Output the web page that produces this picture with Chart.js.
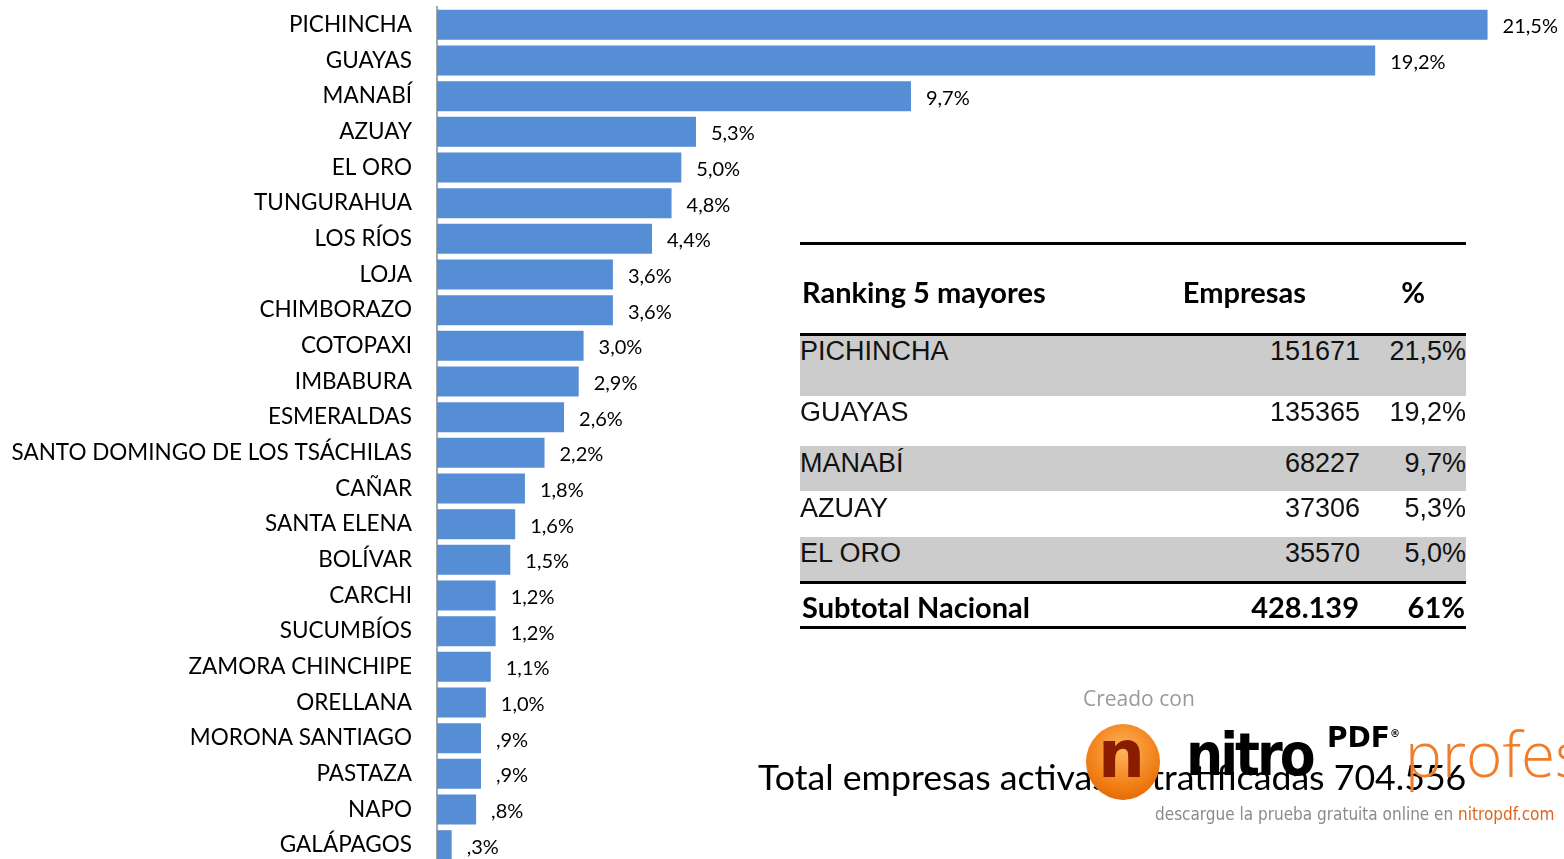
<!DOCTYPE html>
<html lang="es">
<head>
  <meta charset="UTF-8" />
  <title>Empresas por provincia</title>
  <script src="https://cdn.jsdelivr.net/npm/chart.js@4.4.1/dist/chart.umd.min.js"></script>
  <style>
    html, body {margin: 0; padding: 0; background: #fff; overflow: hidden;}
    body {width: 1564px; height: 859px; position: relative; font-family: Lato, sans-serif;}
    #chart {position: absolute; left: 0; top: 0;}
    .rule {position: absolute; left: 800px; width: 666px; background: #000;}
    .band {position: absolute; left: 800px; width: 666px; background: #cccccc;}
    .cell {position: absolute; white-space: nowrap; line-height: 1; transform: translateY(-50%);}
    .body {font-family: "Liberation Sans", Arial, sans-serif; font-size: 27px; color: #111;}
    .bold {font-family: Lato, sans-serif; font-weight: 700; font-size: 29px; color: #000;}
    #total {position: absolute; left: 758px; top: 776px; transform: translateY(-50%); font-size: 35.7px; white-space: nowrap;}
    .wm {position: absolute; white-space: nowrap; line-height: 1;}
  </style>
</head>
<body>
  <canvas id="chart" width="1564" height="866"></canvas>
  <div id="tabla"></div>
  <div id="total">Total empresas activas estratificadas 704.556</div>

  <!-- marca de agua -->
  <div class="wm" style="left:1083px;top:688px;font-size:21px;color:#9a9a9a;font-family:'Open Sans',sans-serif;">Creado con</div>
  <div class="wm" style="left:1086px;top:724px;width:74px;height:76px;border-radius:50%;background:radial-gradient(circle at 50% 35%,#ffb45a,#f07d14 60%,#d85a00);"></div>
  <div class="wm" style="left:1098px;top:722px;font-size:66px;font-weight:900;color:#8a1d00;font-family:'DejaVu Sans',sans-serif;">n</div>
  <div class="wm" style="left:1186px;top:726px;font-size:58px;font-weight:900;color:#000;font-family:'DejaVu Sans Condensed','DejaVu Sans',sans-serif;letter-spacing:-3px;">nitro</div>
  <div class="wm" style="left:1327px;top:724px;font-size:28px;font-weight:900;color:#000;font-family:'DejaVu Sans',sans-serif;">PDF<sup style="font-size:10px">®</sup></div>
  <div class="wm" style="left:1405px;top:722px;font-size:62px;color:#f07d2a;font-family:'Open Sans',sans-serif;font-weight:300;">profesional</div>
  <div class="wm" style="left:1155px;top:806px;font-size:17px;color:#8a8a8a;font-family:'DejaVu Sans Condensed','DejaVu Sans',sans-serif;">descargue la prueba gratuita online en <span style="color:#e0641e">nitropdf.com</span></div>

  <script>
    // porcentaje de empresas activas por provincia
    const provincias = [
      "PICHINCHA", "GUAYAS", "MANABÍ", "AZUAY", "EL ORO", "TUNGURAHUA", "LOS RÍOS", "LOJA",
      "CHIMBORAZO", "COTOPAXI", "IMBABURA", "ESMERALDAS", "SANTO DOMINGO DE LOS TSÁCHILAS",
      "CAÑAR", "SANTA ELENA", "BOLÍVAR", "CARCHI", "SUCUMBÍOS", "ZAMORA CHINCHIPE", "ORELLANA",
      "MORONA SANTIAGO", "PASTAZA", "NAPO", "GALÁPAGOS"
    ];
    const porcentajes = [
      21.5, 19.2, 9.7, 5.3, 5.0, 4.8, 4.4, 3.6,
      3.6, 3.0, 2.9, 2.6, 2.2,
      1.8, 1.6, 1.5, 1.2, 1.2, 1.1, 1.0,
      0.9, 0.9, 0.8, 0.3
    ];

    // tabla ranking
    const rankNombres = ["PICHINCHA", "GUAYAS", "MANABÍ", "AZUAY", "EL ORO"];
    const rankEmpresas = ["151671", "135365", "68227", "37306", "35570"];
    const rankPct = ["21,5%", "19,2%", "9,7%", "5,3%", "5,0%"];
    const subtotalEmpresas = "428.139";
    const subtotalPct = "61%";

    function fmtPct(v) {
      let s = v.toFixed(1).replace(".", ",");
      if (s.startsWith("0")) s = s.slice(1);   // ",9%" como en Excel
      return s + "%";
    }

    const barLabels = {
      id: "barLabels",
      afterDatasetsDraw(chart) {
        const ctx = chart.ctx;
        const meta = chart.getDatasetMeta(0);
        ctx.save();
        ctx.font = "20px Lato";
        ctx.fillStyle = "#000";
        ctx.textAlign = "left";
        ctx.textBaseline = "middle";
        meta.data.forEach((bar, i) => {
          ctx.fillText(fmtPct(chart.data.datasets[0].data[i]), bar.x + 15, bar.y + 2);
        });
        ctx.restore();
      }
    };

    new Chart(document.getElementById("chart").getContext("2d"), {
      type: "bar",
      data: {
        labels: provincias,
        datasets: [{
          data: porcentajes,
          backgroundColor: "#558ed5",
          barPercentage: 0.84,
          categoryPercentage: 1
        }]
      },
      options: {
        indexAxis: "y",
        responsive: false,
        animation: false,
        layout: {autoPadding: false, padding: {top: 7, right: 52, bottom: 3, left: 0}},
        plugins: {legend: {display: false}, tooltip: {enabled: false}},
        scales: {
          x: {display: false, min: 0, max: 22},
          y: {
            afterFit(s) { s.width = 437; s.paddingTop = 0; s.paddingBottom = 0; },
            grid: {display: false},
            border: {display: true, color: "#a6a6a6", width: 2},
            ticks: {color: "#000", padding: 17, font: {family: "Lato", size: 22.5}}
          }
        }
      },
      plugins: [barLabels]
    });

    // construir la tabla
    const tabla = document.getElementById("tabla");
    function add(cls, style, text) {
      const d = document.createElement("div");
      d.className = cls;
      d.setAttribute("style", style);
      if (text !== undefined) d.textContent = text;
      tabla.appendChild(d);
    }
    add("rule", "top:242px;height:3px;");
    add("cell bold", "left:802px;top:291px;", "Ranking 5 mayores");
    add("cell bold", "right:258px;top:291px;", "Empresas");
    add("cell bold", "right:139px;top:291px;", "%");
    add("rule", "top:333px;height:3px;");

    const bandas = [[336, 60], [396, 50], [446, 45], [491, 46], [537, 44]];
    const textoY = [351, 412, 463, 508, 553];
    rankNombres.forEach((n, i) => {
      if (i % 2 === 0) add("band", `top:${bandas[i][0]}px;height:${bandas[i][1]}px;`);
      add("cell body", `left:800px;top:${textoY[i]}px;`, n);
      add("cell body", `right:204px;top:${textoY[i]}px;`, rankEmpresas[i]);
      add("cell body", `right:98px;top:${textoY[i]}px;`, rankPct[i]);
    });
    add("rule", "top:581px;height:3px;");
    add("cell bold", "left:802px;top:606px;", "Subtotal Nacional");
    add("cell bold", "right:205px;top:606px;", subtotalEmpresas);
    add("cell bold", "right:99px;top:606px;", subtotalPct);
    add("rule", "top:626px;height:3px;");
  </script>
</body>
</html>
